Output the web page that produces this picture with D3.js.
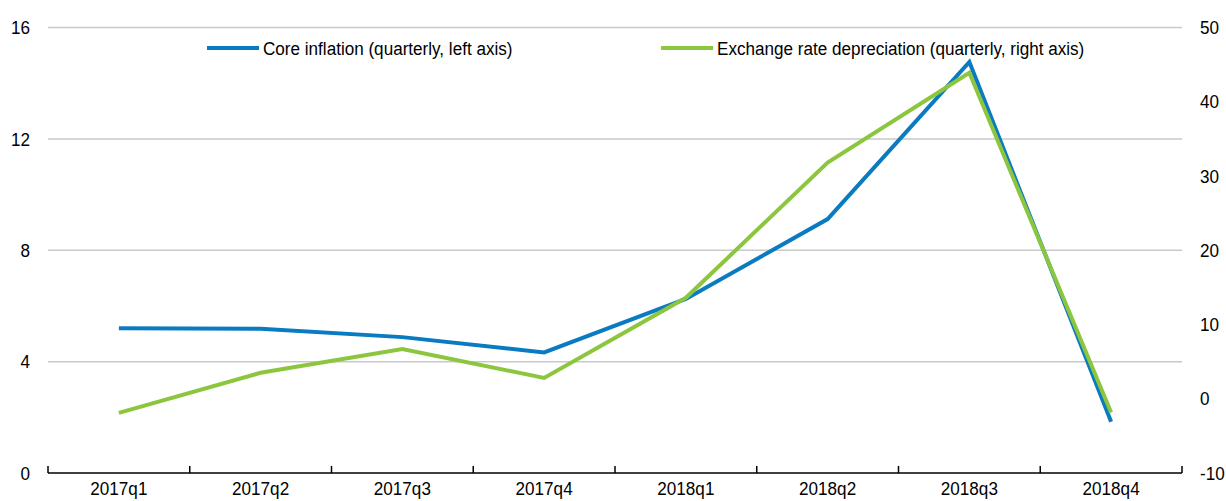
<!DOCTYPE html>
<html>
<head>
<meta charset="utf-8">
<script src="https://cdn.jsdelivr.net/npm/d3@7"></script>
<style>
  body { margin: 0; background: #fff; }
  svg { display: block; font-family: "Liberation Sans", Arial, sans-serif; }
</style>
</head>
<body>
<svg id="chart"></svg>
<script>
// chart data
var quarters = ["2017q1", "2017q2", "2017q3", "2017q4", "2018q1", "2018q2", "2018q3", "2018q4"];
var coreInflation = [5.2, 5.18, 4.88, 4.33, 6.25, 9.12, 14.76, 1.84];
var exchangeDepreciation = [-1.9, 3.5, 6.7, 2.8, 13.6, 31.8, 43.9, -1.85];
var leftTicks = [0, 4, 8, 12, 16];
var rightTicks = [-10, 0, 10, 20, 30, 40, 50];
var seriesNames = ["Core inflation (quarterly, left axis)", "Exchange rate depreciation (quarterly, right axis)"];

var width = 1226, height = 501;
var margin = {top: 27.5, right: 44, bottom: 28, left: 48};
var blue = "#0a7bc1", green = "#8cc63f";
var fontSize = "19px";
var squeeze = 0.9;   // the original type is a bit narrow

var svg = d3.select("#chart").attr("width", width).attr("height", height);

var x = d3.scaleBand()
    .domain(quarters)
    .range([margin.left, width - margin.right]);

var yLeft = d3.scaleLinear()
    .domain([0, 16])
    .range([height - margin.bottom, margin.top]);

var yRight = d3.scaleLinear()
    .domain([-10, 50])
    .range([height - margin.bottom, margin.top]);

function place(px, py) {
    return "translate(" + px + "," + py + ") scale(" + squeeze + ",1)";
}

// gridlines from the left axis
svg.append("g")
    .selectAll("line")
    .data(leftTicks.filter(function(d){ return d > 0; }))
    .enter()
    .append("line")
    .attr("x1", margin.left)
    .attr("x2", width - margin.right)
    .attr("y1", function(d){ return yLeft(d); })
    .attr("y2", function(d){ return yLeft(d); })
    .style("stroke", "#c9c9c9")
    .style("stroke-width", 1.5);

// left axis labels
svg.append("g")
    .selectAll("text")
    .data(leftTicks)
    .enter()
    .append("text")
    .attr("transform", function(d){ return place(30, yLeft(d)); })
    .attr("dy", "0.35em")
    .attr("text-anchor", "end")
    .style("font-size", fontSize)
    .style("fill", "#000")
    .text(function(d){ return d; });

// right axis labels
svg.append("g")
    .selectAll("text")
    .data(rightTicks)
    .enter()
    .append("text")
    .attr("transform", function(d){ return place(1200, yRight(d)); })
    .attr("dy", "0.35em")
    .attr("text-anchor", "start")
    .style("font-size", fontSize)
    .style("fill", "#000")
    .text(function(d){ return d; });

// bottom axis with inward ticks between categories
var xAxis = svg.append("g")
    .attr("transform", "translate(0," + (height - margin.bottom) + ")");

xAxis.append("line")
    .attr("x1", margin.left)
    .attr("x2", width - margin.right)
    .style("stroke", "#000")
    .style("stroke-width", 1.5);

var boundaries = quarters.map(function(q){ return x(q); }).concat([width - margin.right]);
xAxis.selectAll(".tick")
    .data(boundaries)
    .enter()
    .append("line")
    .attr("class", "tick")
    .attr("x1", function(d){ return d; })
    .attr("x2", function(d){ return d; })
    .attr("y1", 0)
    .attr("y2", -7)
    .style("stroke", "#000")
    .style("stroke-width", 1.5);

xAxis.selectAll("text")
    .data(quarters)
    .enter()
    .append("text")
    .attr("transform", function(d){ return place(x(d) + x.bandwidth() / 2, 22); })
    .attr("text-anchor", "middle")
    .style("font-size", fontSize)
    .style("fill", "#000")
    .text(function(d){ return d; });

// lines
var cx = function(d, i){ return x(quarters[i]) + x.bandwidth() / 2; };

var leftLine = d3.line()
    .x(cx)
    .y(function(d){ return yLeft(d); });

var rightLine = d3.line()
    .x(cx)
    .y(function(d){ return yRight(d); });

svg.append("path")
    .datum(coreInflation)
    .attr("d", leftLine)
    .style("fill", "none")
    .style("stroke", blue)
    .style("stroke-width", 4)
    .style("stroke-linejoin", "miter");

svg.append("path")
    .datum(exchangeDepreciation)
    .attr("d", rightLine)
    .style("fill", "none")
    .style("stroke", green)
    .style("stroke-width", 4)
    .style("stroke-linejoin", "miter");

// legend
var legend = [
    {name: seriesNames[0], color: blue, x: 207},
    {name: seriesNames[1], color: green, x: 661}
];

var items = svg.append("g")
    .selectAll("g")
    .data(legend)
    .enter()
    .append("g")
    .attr("transform", function(d){ return "translate(" + d.x + ",48)"; });

items.append("line")
    .attr("x1", 0)
    .attr("x2", 52)
    .style("stroke", function(d){ return d.color; })
    .style("stroke-width", 4);

items.append("text")
    .attr("transform", place(56, 0))
    .attr("dy", "0.35em")
    .style("font-size", fontSize)
    .style("fill", "#000")
    .text(function(d){ return d.name; });
</script>
</body>
</html>
